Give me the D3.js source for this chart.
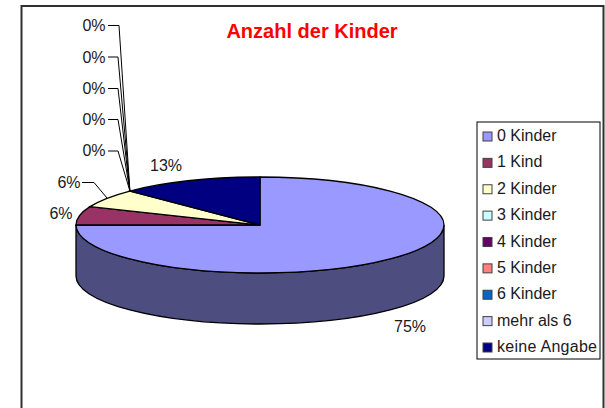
<!DOCTYPE html>
<html><head><meta charset="utf-8">
<script src="https://cdn.jsdelivr.net/npm/d3@7/dist/d3.min.js"></script>
<style>html,body{margin:0;padding:0;background:#fff}svg{display:block}text{font-family:"Liberation Sans",Arial,sans-serif;fill:#1a1a1a}</style>
</head><body><svg id="c" width="605" height="408"></svg>
<script>
const categories = ["0 Kinder","1 Kind","2 Kinder","3 Kinder","4 Kinder","5 Kinder","6 Kinder","mehr als 6","keine Angabe"];
const values = [75,6.25,6.25,0,0,0,0,0,12.5];
const percentLabels = ["75%","6%","6%","0%","0%","0%","0%","0%","13%"];
const colors = ["#9999ff","#993366","#ffffcc","#ccffff","#660066","#ff8080","#0066cc","#ccccff","#000080"];
const sideColor = "#4d4d80";

const cx=260, cy=225, rx=184, ry=48, depth=51;
const svg=d3.select("#c");
svg.append("rect").attr("x",21.5).attr("y",6).attr("width",582).attr("height",420)
  .attr("fill","#fff").attr("stroke","#303030").attr("stroke-width",2);

svg.append("text").attr("x",312).attr("y",38).attr("text-anchor","middle")
  .style("font-size","20px").style("font-weight","bold").style("fill","#ff0000").text("Anzahl der Kinder");

const pie=d3.pie().sort(null).value(d=>d)(values);
const ex=a=>cx+rx*Math.sin(a), ey=a=>cy-ry*Math.cos(a);

// visible side wall (front half of the ellipse)
const a0=Math.PI/2, a1=Math.PI*1.5;
const side=`M${ex(a0)},${ey(a0)}A${rx},${ry} 0 0 1 ${ex(a1)},${ey(a1)}L${ex(a1)},${ey(a1)+depth}A${rx},${ry} 0 0 0 ${ex(a0)},${ey(a0)+depth}Z`;
svg.append("path").attr("d",side).attr("fill",sideColor).attr("stroke","#000").attr("stroke-width",1.3);

const arc=d3.arc().innerRadius(0).outerRadius(rx);
svg.append("g").attr("transform",`translate(${cx},${cy}) scale(1,${ry/rx})`)
  .selectAll("path").data(pie.filter(d=>d.value>0)).join("path")
  .attr("d",arc).attr("fill",d=>colors[d.index])
  .attr("stroke","#000").attr("stroke-width",1.3).attr("vector-effect","non-scaling-stroke");

// data labels with leader lines
const labelPos=[[410,332,null],[61,219,null],[69,188,[[82,182.5],[94,182.5],[107,198]]],
  [94,156,[[108,151],[118,151]]],[94,125,[[108,119.5],[118,119.5]]],[94,94,[[108,88.5],[118,88.5]]],
  [94,63,[[108,57],[118,57]]],[94,31,[[108,25.5],[119,25.5]]],[166,171,null]];
labelPos.forEach((p,i)=>{
  if(p[2]){
    const pts=p[2].slice();
    if(i>=3){const a=pie[i].startAngle; pts.push([ex(a),ey(a)]);}
    svg.append("path").attr("d",d3.line()(pts)).attr("fill","none").attr("stroke","#000").attr("stroke-width",1);
  }
  svg.append("text").attr("x",p[0]).attr("y",p[1]).attr("text-anchor","middle").style("font-size","16px").text(percentLabels[i]);
});

// legend
svg.append("rect").attr("x",477).attr("y",122).attr("width",123).attr("height",237)
  .attr("fill","#fff").attr("stroke","#000").attr("stroke-width",1);
const ly=d3.scalePoint().domain(categories).range([136,347]);
const lg=svg.append("g").selectAll("g").data(categories).join("g").attr("transform",d=>`translate(0,${ly(d)})`);
lg.append("rect").attr("x",483).attr("y",-4).attr("width",9).attr("height",9)
  .attr("fill",(d,i)=>colors[i]).attr("stroke","#404040").attr("stroke-width",1);
lg.append("text").attr("x",497).attr("y",5).style("font-size","16px").attr("textLength",d=>d==="keine Angabe"?100:null).text(d=>d);
</script></body></html>
